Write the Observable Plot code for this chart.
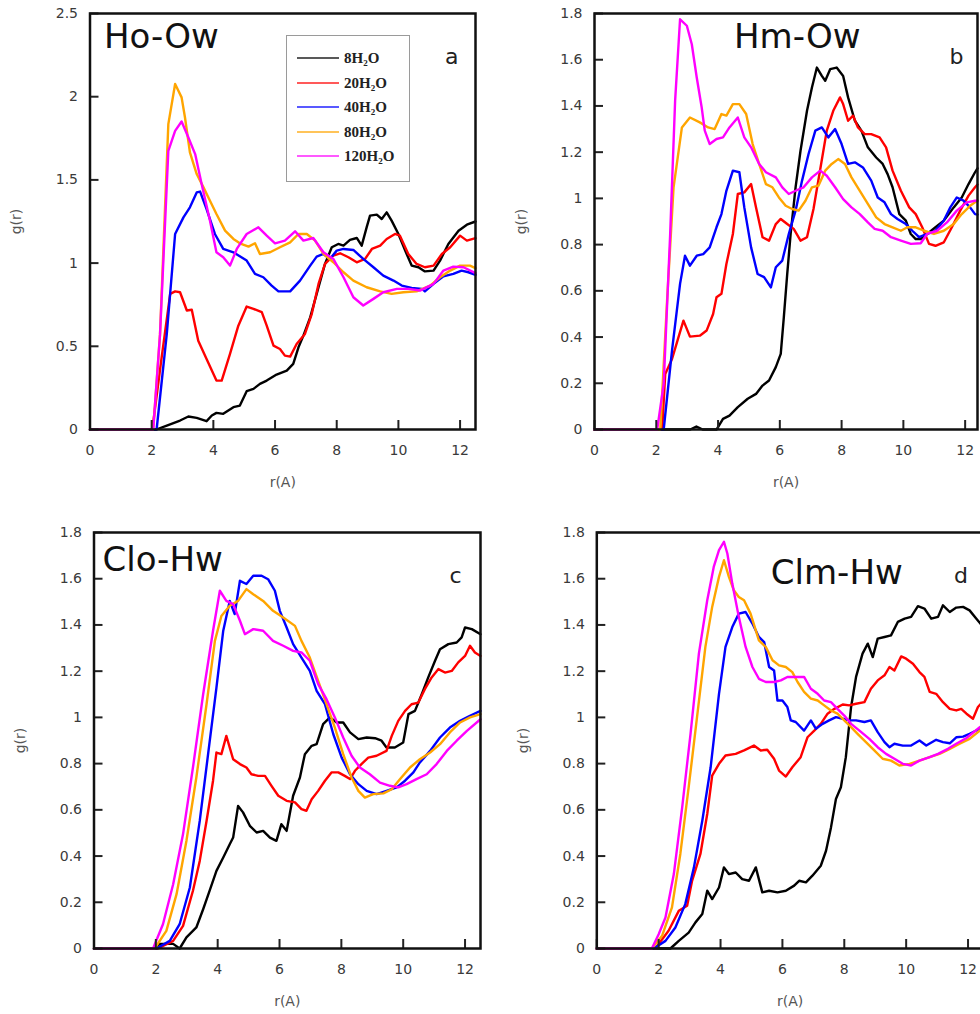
<!DOCTYPE html>
<html><head><meta charset="utf-8">
<script src="https://cdn.jsdelivr.net/npm/d3@7"></script>
<script src="https://cdn.jsdelivr.net/npm/@observablehq/plot@0.6"></script>
<style>
html,body{margin:0;padding:0;background:#fff;}
#wrap{position:relative;width:980px;height:1014px;overflow:hidden;background:#fff;}
.panel{position:absolute;}
.legend{position:absolute;left:286px;top:35px;width:122px;height:145px;border:1.5px solid #9a9a9a;background:#fff;box-sizing:content-box;}
.legrow{position:absolute;left:0;height:20px;width:120px;}
.legline{position:absolute;left:10px;top:9px;width:42px;height:2px;opacity:0.65;}
.legtext{position:absolute;left:57px;top:0;line-height:20px;font-family:"Liberation Serif","Times New Roman",serif;font-weight:bold;font-size:15px;color:#222;white-space:nowrap;}
.legtext sub{font-size:9px;vertical-align:-3px;line-height:0;}
</style></head><body><div id="wrap"></div>
<script>
// ---- series meta ----
const waterCounts = [8, 20, 40, 80, 120];
const seriesColors = ["#000000", "#ff0000", "#0000ff", "#ffa500", "#ff00ff"];
const xTicks = [0, 2, 4, 6, 8, 10, 12];
const yTicksA = [0, 0.5, 1, 1.5, 2, 2.5];
const yTicksBCD = [0, 0.2, 0.4, 0.6, 0.8, 1, 1.2, 1.4, 1.6, 1.8];
const titles = ["Ho-Ow", "Hm-Ow", "Clo-Hw", "Clm-Hw"];
const letters = ["a", "b", "c", "d"];

// ---- panel a : Ho-Ow ----
const a8 = [[0,0],[2.15,0],[2.49,0.024],[2.92,0.054],[3.19,0.078],[3.46,0.07],[3.78,0.05],[3.95,0.084],[4.1,0.1],[4.32,0.094],[4.65,0.134],[4.86,0.144],[5.08,0.23],[5.3,0.244],[5.51,0.274],[5.73,0.294],[6.05,0.33],[6.38,0.354],[6.59,0.394],[6.76,0.494],[6.92,0.564],[7.14,0.674],[7.41,0.855],[7.62,0.995],[7.84,1.095],[8.05,1.115],[8.22,1.105],[8.43,1.139],[8.65,1.151],[8.81,1.105],[8.97,1.215],[9.08,1.285],[9.3,1.291],[9.46,1.265],[9.62,1.305],[9.78,1.255],[10.0,1.175],[10.22,1.075],[10.43,0.985],[10.65,0.975],[10.86,0.95],[11.14,0.955],[11.35,1.015],[11.62,1.115],[11.95,1.195],[12.22,1.231],[12.5,1.25]];
const a20 = [[0,0],[2.02,0],[2.3,0.4],[2.6,0.815],[2.76,0.83],[2.92,0.825],[3.14,0.715],[3.3,0.72],[3.51,0.534],[3.78,0.424],[4.1,0.294],[4.27,0.294],[4.54,0.454],[4.81,0.624],[5.08,0.739],[5.3,0.725],[5.57,0.705],[5.73,0.624],[5.95,0.504],[6.16,0.484],[6.32,0.444],[6.49,0.438],[6.7,0.514],[6.97,0.574],[7.19,0.694],[7.41,0.875],[7.62,0.995],[7.89,1.045],[8.11,1.059],[8.38,1.035],[8.65,1.005],[8.92,1.025],[9.14,1.085],[9.41,1.105],[9.62,1.145],[9.89,1.175],[10.05,1.165],[10.32,1.055],[10.59,0.995],[10.86,0.975],[11.14,0.985],[11.41,1.055],[11.68,1.095],[12.0,1.165],[12.22,1.135],[12.5,1.15]];
const a40 = [[0,0],[2.16,0],[2.49,0.574],[2.76,1.175],[3.03,1.275],[3.24,1.335],[3.46,1.425],[3.57,1.43],[3.78,1.325],[4.05,1.175],[4.32,1.085],[4.65,1.065],[5.08,1.015],[5.35,0.935],[5.62,0.915],[5.89,0.865],[6.11,0.83],[6.49,0.83],[6.81,0.895],[7.14,0.985],[7.35,1.039],[7.57,1.055],[7.78,1.025],[8.0,1.075],[8.22,1.085],[8.54,1.079],[8.86,1.025],[9.19,0.975],[9.51,0.925],[9.84,0.895],[10.11,0.865],[10.43,0.851],[10.76,0.845],[10.86,0.83],[11.14,0.875],[11.46,0.92],[11.78,0.935],[12.05,0.955],[12.27,0.945],[12.5,0.93]];
const a80 = [[0,0],[2.05,0],[2.27,0.57],[2.54,1.835],[2.76,2.076],[2.97,1.996],[3.08,1.875],[3.24,1.665],[3.46,1.535],[3.68,1.455],[3.89,1.375],[4.1,1.295],[4.38,1.195],[4.65,1.145],[4.86,1.119],[5.14,1.099],[5.35,1.119],[5.51,1.055],[5.84,1.065],[6.16,1.095],[6.49,1.125],[6.76,1.175],[7.03,1.175],[7.3,1.135],[7.57,1.055],[7.89,1.005],[8.22,0.945],[8.54,0.895],[8.97,0.855],[9.41,0.83],[9.78,0.815],[10.16,0.825],[10.59,0.83],[11.03,0.865],[11.35,0.915],[11.68,0.955],[12.0,0.985],[12.32,0.985],[12.5,0.97]];
const a120 = [[0,0],[2.05,0],[2.27,0.57],[2.54,1.675],[2.76,1.795],[2.97,1.851],[3.19,1.755],[3.41,1.655],[3.62,1.475],[3.89,1.255],[4.1,1.065],[4.32,1.035],[4.54,0.985],[4.76,1.085],[5.08,1.175],[5.46,1.215],[5.73,1.165],[6.0,1.119],[6.32,1.135],[6.65,1.191],[6.92,1.135],[7.24,1.151],[7.57,1.065],[7.89,1.025],[8.22,0.915],[8.54,0.795],[8.86,0.745],[9.19,0.785],[9.51,0.825],[9.95,0.845],[10.32,0.845],[10.7,0.835],[11.14,0.875],[11.46,0.955],[11.78,0.979],[12.11,0.975],[12.5,0.94]];

// ---- panel b : Hm-Ow ----
const b8 = [[0,0],[3.1,0],[3.3,0.013],[3.5,0],[3.95,0],[4.16,0.046],[4.37,0.06],[4.64,0.097],[4.96,0.133],[5.23,0.154],[5.44,0.19],[5.65,0.212],[5.87,0.27],[6.03,0.327],[6.13,0.486],[6.24,0.673],[6.35,0.846],[6.51,1.048],[6.67,1.206],[6.88,1.379],[7.04,1.48],[7.2,1.566],[7.36,1.53],[7.47,1.509],[7.63,1.559],[7.84,1.566],[8.05,1.53],[8.21,1.437],[8.43,1.336],[8.64,1.293],[8.85,1.221],[9.12,1.177],[9.33,1.149],[9.49,1.105],[9.65,1.048],[9.87,0.932],[10.08,0.904],[10.24,0.846],[10.4,0.824],[10.56,0.824],[10.77,0.846],[11.04,0.875],[11.31,0.904],[11.63,0.961],[11.89,1.004],[12.11,1.062],[12.32,1.113],[12.4,1.13]];
const b20 = [[0,0],[2.19,0],[2.29,0.24],[2.51,0.305],[2.72,0.4],[2.88,0.471],[3.09,0.402],[3.41,0.406],[3.63,0.428],[3.84,0.5],[3.95,0.572],[4.11,0.587],[4.27,0.716],[4.48,0.846],[4.64,1.019],[4.85,1.026],[5.07,1.062],[5.23,0.961],[5.44,0.832],[5.65,0.817],[5.87,0.889],[6.03,0.911],[6.24,0.889],[6.45,0.868],[6.67,0.817],[6.88,0.832],[7.09,0.954],[7.31,1.127],[7.52,1.293],[7.73,1.379],[7.95,1.437],[8.05,1.408],[8.21,1.336],[8.37,1.358],[8.53,1.307],[8.75,1.278],[8.96,1.278],[9.23,1.264],[9.44,1.221],[9.65,1.12],[9.92,1.033],[10.19,0.961],[10.4,0.932],[10.61,0.875],[10.83,0.803],[11.04,0.795],[11.31,0.81],[11.57,0.875],[11.84,0.947],[12.11,1.012],[12.32,1.048],[12.4,1.06]];
const b40 = [[0,0],[2.24,0],[2.51,0.342],[2.77,0.63],[2.93,0.752],[3.09,0.709],[3.31,0.752],[3.52,0.759],[3.73,0.788],[3.95,0.875],[4.11,0.932],[4.27,1.033],[4.48,1.12],[4.69,1.113],[4.85,0.961],[5.07,0.788],[5.28,0.673],[5.49,0.659],[5.71,0.615],[5.87,0.702],[6.08,0.731],[6.29,0.846],[6.51,0.947],[6.72,1.077],[6.93,1.192],[7.15,1.293],[7.36,1.307],[7.57,1.264],[7.79,1.3],[8.0,1.235],[8.21,1.149],[8.43,1.156],[8.69,1.134],[8.96,1.077],[9.17,1.004],[9.39,0.983],[9.6,0.932],[9.81,0.911],[10.08,0.889],[10.29,0.86],[10.51,0.832],[10.77,0.846],[11.04,0.86],[11.31,0.904],[11.52,0.961],[11.73,1.004],[11.95,0.99],[12.16,0.961],[12.32,0.932],[12.4,0.93]];
const b80 = [[0,0],[2.13,0],[2.35,0.558],[2.56,1.048],[2.83,1.307],[3.09,1.35],[3.41,1.329],[3.68,1.307],[3.89,1.3],[4.11,1.365],[4.27,1.358],[4.48,1.408],[4.69,1.408],[4.91,1.365],[5.12,1.235],[5.33,1.149],[5.55,1.062],[5.76,1.048],[5.97,1.004],[6.19,0.968],[6.4,0.954],[6.61,0.947],[6.83,0.99],[7.04,1.048],[7.25,1.055],[7.47,1.12],[7.68,1.149],[7.89,1.17],[8.11,1.149],[8.32,1.091],[8.59,1.033],[8.85,0.976],[9.12,0.918],[9.39,0.889],[9.65,0.875],[9.92,0.86],[10.13,0.875],[10.4,0.875],[10.67,0.86],[10.99,0.846],[11.31,0.86],[11.63,0.889],[11.89,0.932],[12.16,0.968],[12.32,0.983],[12.4,0.99]];
const b120 = [[0,0],[2.03,0],[2.24,0.197],[2.45,0.846],[2.61,1.422],[2.77,1.775],[2.99,1.747],[3.15,1.667],[3.31,1.523],[3.47,1.394],[3.57,1.293],[3.73,1.235],[3.95,1.257],[4.16,1.264],[4.37,1.307],[4.64,1.35],[4.85,1.264],[5.07,1.221],[5.33,1.149],[5.55,1.113],[5.87,1.091],[6.08,1.048],[6.29,1.019],[6.51,1.033],[6.77,1.048],[7.04,1.091],[7.31,1.12],[7.52,1.098],[7.79,1.048],[8.05,0.997],[8.32,0.961],[8.59,0.932],[8.85,0.896],[9.07,0.868],[9.33,0.86],[9.6,0.832],[9.92,0.817],[10.24,0.803],[10.56,0.806],[10.77,0.846],[11.09,0.86],[11.41,0.896],[11.73,0.947],[12.05,0.983],[12.32,0.99],[12.4,0.99]];

// ---- panel c : Clo-Hw ----
const c8 = [[0,0],[1.95,0],[2.13,0.02],[2.56,0.02],[2.77,0],[2.99,0.048],[3.31,0.091],[3.53,0.17],[3.74,0.25],[3.96,0.336],[4.18,0.394],[4.39,0.451],[4.5,0.48],[4.66,0.617],[4.82,0.589],[5.04,0.531],[5.26,0.502],[5.47,0.509],[5.69,0.48],[5.9,0.466],[6.06,0.538],[6.23,0.509],[6.44,0.661],[6.66,0.74],[6.82,0.841],[7.04,0.877],[7.2,0.884],[7.41,0.971],[7.63,1.0],[7.85,0.978],[8.06,0.978],[8.28,0.935],[8.55,0.906],[8.82,0.913],[9.09,0.91],[9.3,0.899],[9.46,0.87],[9.73,0.87],[10.0,0.891],[10.17,1.014],[10.38,1.028],[10.6,1.1],[10.81,1.173],[11.03,1.245],[11.19,1.295],[11.46,1.317],[11.73,1.324],[11.89,1.346],[12.0,1.389],[12.22,1.382],[12.5,1.36]];
const c20 = [[0,0],[2.07,0],[2.56,0.033],[2.88,0.098],[3.2,0.25],[3.42,0.379],[3.64,0.552],[3.85,0.726],[3.96,0.848],[4.12,0.841],[4.28,0.92],[4.5,0.819],[4.72,0.798],[4.93,0.783],[5.09,0.754],[5.31,0.747],[5.53,0.747],[5.74,0.704],[5.96,0.661],[6.23,0.639],[6.5,0.632],[6.71,0.603],[6.87,0.596],[7.04,0.646],[7.25,0.682],[7.47,0.726],[7.68,0.762],[7.9,0.762],[8.11,0.747],[8.28,0.733],[8.44,0.769],[8.65,0.798],[8.87,0.826],[9.14,0.834],[9.46,0.855],[9.63,0.92],[9.84,0.985],[10.06,1.028],[10.27,1.057],[10.49,1.064],[10.7,1.122],[10.92,1.173],[11.14,1.209],[11.35,1.194],[11.57,1.201],[11.78,1.238],[12.0,1.266],[12.16,1.31],[12.32,1.281],[12.5,1.266]];
const c40 = [[0,0],[2.02,0],[2.45,0.033],[2.77,0.105],[3.1,0.264],[3.42,0.552],[3.69,0.841],[3.96,1.129],[4.18,1.375],[4.39,1.504],[4.55,1.447],[4.72,1.591],[4.93,1.577],[5.15,1.613],[5.42,1.613],[5.63,1.598],[5.85,1.548],[6.01,1.461],[6.23,1.389],[6.44,1.317],[6.71,1.259],[6.98,1.201],[7.2,1.115],[7.47,1.057],[7.74,0.927],[8.01,0.826],[8.28,0.754],[8.55,0.711],[8.82,0.682],[9.14,0.668],[9.46,0.682],[9.79,0.697],[10.06,0.726],[10.33,0.762],[10.54,0.805],[10.87,0.855],[11.19,0.913],[11.51,0.956],[11.84,0.985],[12.16,1.007],[12.5,1.028]];
const c80 = [[0,0],[1.96,0],[2.34,0.076],[2.67,0.235],[2.99,0.466],[3.31,0.74],[3.64,1.057],[3.91,1.331],[4.12,1.439],[4.39,1.483],[4.66,1.504],[4.93,1.555],[5.15,1.533],[5.47,1.504],[5.79,1.461],[6.12,1.432],[6.5,1.396],[6.71,1.331],[6.98,1.259],[7.25,1.158],[7.52,1.057],[7.79,0.956],[8.06,0.841],[8.33,0.74],[8.55,0.682],[8.76,0.653],[9.03,0.668],[9.36,0.671],[9.63,0.689],[9.9,0.733],[10.22,0.783],[10.54,0.819],[10.87,0.848],[11.19,0.884],[11.51,0.935],[11.84,0.978],[12.16,1.0],[12.5,1.014]];
const c120 = [[0,0],[1.91,0],[2.23,0.105],[2.56,0.278],[2.88,0.495],[3.2,0.783],[3.53,1.1],[3.85,1.375],[4.07,1.548],[4.28,1.504],[4.5,1.49],[4.72,1.418],[4.88,1.36],[5.15,1.382],[5.47,1.375],[5.79,1.331],[6.12,1.31],[6.44,1.288],[6.71,1.281],[6.98,1.245],[7.25,1.144],[7.52,1.079],[7.79,1.0],[8.06,0.913],[8.33,0.834],[8.6,0.783],[8.92,0.754],[9.25,0.718],[9.57,0.704],[9.84,0.697],[10.11,0.711],[10.43,0.733],[10.76,0.754],[11.08,0.798],[11.41,0.855],[11.73,0.899],[12.06,0.942],[12.5,0.992]];

// ---- panel d : Clm-Hw ----
const d8 = [[0,0],[2.38,0],[2.65,0.033],[2.97,0.069],[3.19,0.113],[3.41,0.149],[3.57,0.25],[3.73,0.214],[3.95,0.264],[4.11,0.351],[4.27,0.322],[4.49,0.329],[4.7,0.3],[4.92,0.293],[5.14,0.351],[5.35,0.243],[5.57,0.25],[5.84,0.243],[6.11,0.25],[6.38,0.272],[6.54,0.293],[6.76,0.286],[6.97,0.315],[7.24,0.358],[7.41,0.423],[7.57,0.524],[7.73,0.647],[7.89,0.698],[8.05,0.828],[8.22,1.045],[8.38,1.175],[8.59,1.276],[8.76,1.319],[8.92,1.261],[9.08,1.341],[9.3,1.348],[9.51,1.355],[9.73,1.413],[9.95,1.427],[10.16,1.435],[10.38,1.481],[10.59,1.471],[10.81,1.427],[11.03,1.435],[11.19,1.485],[11.41,1.456],[11.62,1.475],[11.84,1.478],[12.05,1.463],[12.27,1.427],[12.5,1.39]];
const d20 = [[0,0],[1.89,0],[2.32,0.077],[2.65,0.163],[2.92,0.185],[3.08,0.293],[3.35,0.409],[3.57,0.582],[3.73,0.748],[3.95,0.799],[4.16,0.835],[4.49,0.842],[4.76,0.857],[5.08,0.878],[5.3,0.857],[5.51,0.86],[5.73,0.821],[5.89,0.77],[6.11,0.744],[6.32,0.784],[6.59,0.828],[6.81,0.914],[7.03,0.943],[7.24,0.972],[7.46,1.016],[7.68,1.037],[7.95,1.056],[8.16,1.052],[8.38,1.059],[8.65,1.066],[8.86,1.124],[9.08,1.16],[9.3,1.182],[9.46,1.218],[9.62,1.203],[9.84,1.264],[10.0,1.254],[10.22,1.232],[10.43,1.196],[10.59,1.175],[10.76,1.11],[10.97,1.102],[11.19,1.066],[11.41,1.037],[11.62,1.03],[11.78,1.037],[11.95,1.016],[12.16,0.994],[12.32,1.045],[12.5,1.07]];
const d40 = [[0,0],[1.84,0],[2.22,0.033],[2.54,0.091],[2.86,0.192],[3.14,0.351],[3.41,0.553],[3.68,0.784],[3.95,1.102],[4.16,1.305],[4.38,1.391],[4.59,1.449],[4.81,1.456],[5.03,1.406],[5.24,1.348],[5.41,1.326],[5.57,1.218],[5.73,1.203],[5.84,1.073],[6.0,1.073],[6.16,1.045],[6.27,0.987],[6.43,0.98],[6.7,0.943],[6.92,0.987],[7.08,0.951],[7.3,0.972],[7.51,0.987],[7.73,1.001],[7.95,0.994],[8.16,0.987],[8.38,0.987],[8.65,0.98],[8.86,0.987],[9.08,0.936],[9.3,0.893],[9.46,0.871],[9.62,0.886],[9.89,0.878],[10.16,0.878],[10.43,0.9],[10.65,0.878],[10.97,0.903],[11.19,0.893],[11.41,0.888],[11.62,0.914],[11.84,0.917],[12.05,0.929],[12.38,0.951],[12.5,0.96]];
const d80 = [[0,0],[1.78,0],[2.11,0.055],[2.43,0.178],[2.7,0.409],[2.97,0.698],[3.24,1.001],[3.51,1.305],[3.73,1.478],[3.95,1.608],[4.11,1.68],[4.27,1.608],[4.43,1.55],[4.59,1.521],[4.76,1.507],[4.97,1.449],[5.24,1.333],[5.46,1.305],[5.68,1.247],[5.89,1.225],[6.11,1.218],[6.32,1.196],[6.49,1.153],[6.7,1.11],[6.92,1.081],[7.14,1.073],[7.35,1.052],[7.57,1.03],[7.78,1.016],[8.0,0.987],[8.22,0.958],[8.43,0.929],[8.7,0.893],[8.97,0.857],[9.24,0.821],[9.51,0.813],[9.78,0.792],[10.11,0.799],[10.43,0.813],[10.76,0.828],[11.08,0.842],[11.41,0.864],[11.73,0.886],[12.05,0.907],[12.38,0.943],[12.5,0.955]];
const d120 = [[0,0],[1.78,0],[2.0,0.062],[2.22,0.134],[2.49,0.322],[2.76,0.611],[3.03,0.929],[3.3,1.276],[3.57,1.507],[3.78,1.651],[3.95,1.724],[4.11,1.76],[4.22,1.709],[4.38,1.579],[4.59,1.435],[4.81,1.305],[5.03,1.218],[5.24,1.167],[5.46,1.153],[5.73,1.153],[5.95,1.16],[6.16,1.175],[6.43,1.175],[6.7,1.175],[6.92,1.124],[7.14,1.102],[7.35,1.073],[7.57,1.066],[7.78,1.037],[8.0,1.008],[8.22,0.972],[8.49,0.943],[8.81,0.907],[9.08,0.871],[9.35,0.842],[9.62,0.821],[9.89,0.799],[10.16,0.792],[10.43,0.813],[10.76,0.828],[11.03,0.842],[11.35,0.864],[11.62,0.886],[11.95,0.911],[12.38,0.958],[12.5,0.965]];

// ---- layout (positions / sizes only) ----
const layout = [
  {left:0,   top:0,   width:490, height:500, mL:89.5,  mR:15, mT:13, mB:71, xMax:12.5, yMax:2.5, yTicks:yTicksA,   tDx:14,    tDy:34.5, lDx:-17, lDy:50,  series:[a8,a20,a40,a80,a120]},
  {left:490, top:0,   width:500, height:500, mL:104,   mR:13, mT:13, mB:71, xMax:12.4, yMax:1.8, yTicks:yTicksBCD, tDx:139.5, tDy:34,   lDx:-14, lDy:50,  series:[b8,b20,b40,b80,b120]},
  {left:0,   top:500, width:500, height:514, mL:93.5,  mR:20, mT:32, mB:66, xMax:12.5, yMax:1.8, yTicks:yTicksBCD, tDx:8.5,   tDy:38,   lDx:-19, lDy:50,  series:[c8,c20,c40,c80,c120]},
  {left:490, top:500, width:510, height:514, mL:106.3, mR:17, mT:32, mB:66, xMax:12.5, yMax:1.8, yTicks:yTicksBCD, tDx:174,   tDy:51,   lDx:-15.5, lDy:50, series:[d8,d20,d40,d80,d120]}
];

const wrap = document.getElementById("wrap");
const fmt = d => String(+d.toFixed(2));

layout.forEach((p, k) => {
  const lines = p.series.map((s, i) =>
    Plot.line(s, {x: d => d[0], y: d => d[1], stroke: seriesColors[i], strokeWidth: 2.4, strokeLinejoin: "round"}));
  const chart = Plot.plot({
    width: p.width, height: p.height,
    marginLeft: p.mL, marginRight: p.mR, marginTop: p.mT, marginBottom: p.mB,
    x: {domain: [0, p.xMax], label: null},
    y: {domain: [0, p.yMax], label: null},
    style: {fontFamily: "DejaVu Sans", fontSize: "14px", background: "transparent", color: "#333"},
    marks: [
      ...lines,
      Plot.axisX({ticks: xTicks, tickSize: 9, dy: -9, fill: "none", stroke: "#222", strokeWidth: 2, label: null}),
      Plot.axisX({ticks: xTicks, tickSize: 0, tickPadding: 16, fill: "#3a3a3a", tickFormat: fmt, label: null}),
      Plot.axisY({ticks: p.yTicks, tickSize: 9, dx: 9, fill: "none", stroke: "#222", strokeWidth: 2, label: null}),
      Plot.axisY({ticks: p.yTicks, tickSize: 0, tickPadding: 12, fill: "#3a3a3a", tickFormat: fmt, label: null}),
      Plot.frame({stroke: "#111", strokeWidth: 2.5}),
      Plot.text([titles[k]], {frameAnchor: "top-left", dx: p.tDx, dy: p.tDy, textAnchor: "start", lineAnchor: "bottom", fontSize: 34, fill: "#111"}),
      Plot.text([letters[k]], {frameAnchor: "top-right", dx: p.lDx, dy: p.lDy, textAnchor: "end", lineAnchor: "bottom", fontSize: 22, fill: "#222"}),
      Plot.text(["r(A)"], {frameAnchor: "bottom", dy: 53, lineAnchor: "middle", fontSize: 14, fill: "#555"}),
      Plot.text(["g(r)"], {frameAnchor: "left", dx: -73, rotate: -90, lineAnchor: "middle", textAnchor: "middle", fontSize: 14, fill: "#555"})
    ]
  });
  chart.classList.add("panel");
  chart.style.left = p.left + "px";
  chart.style.top = p.top + "px";
  wrap.appendChild(chart);
});

// ---- legend (panel a) ----
const legend = document.createElement("div");
legend.className = "legend";
waterCounts.forEach((n, i) => {
  const row = document.createElement("div");
  row.className = "legrow";
  row.style.top = (12 + i * 24.6) + "px";
  const ln = document.createElement("div");
  ln.className = "legline";
  ln.style.background = seriesColors[i];
  const tx = document.createElement("div");
  tx.className = "legtext";
  tx.innerHTML = n + "H<sub>2</sub>O";
  row.appendChild(ln); row.appendChild(tx);
  legend.appendChild(row);
});
wrap.appendChild(legend);
</script>
</body></html>
